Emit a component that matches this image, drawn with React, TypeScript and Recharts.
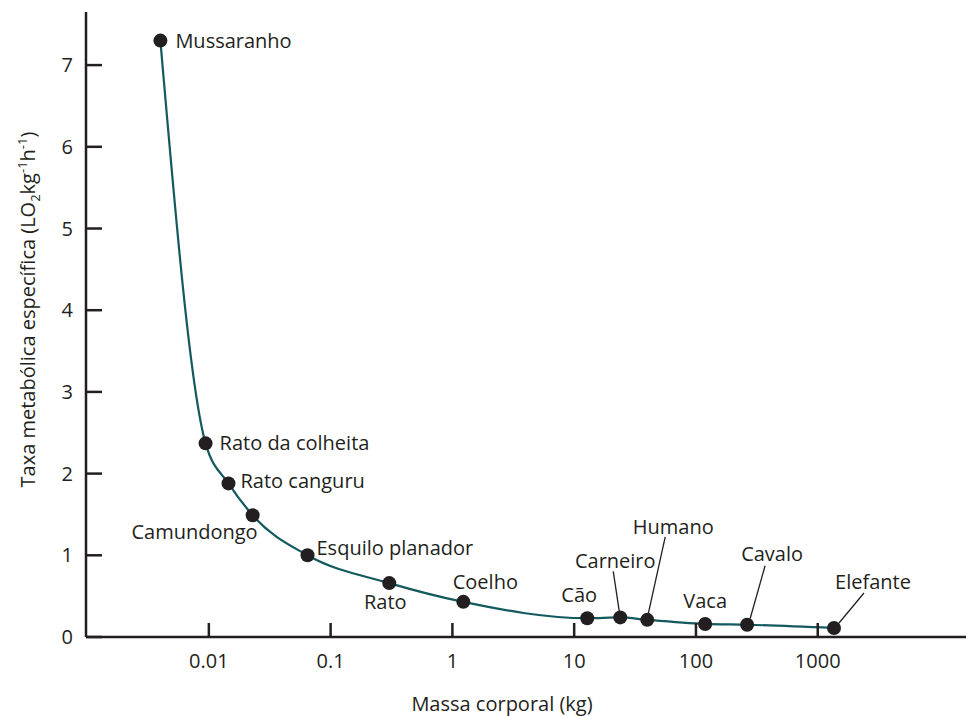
import React from 'react';
import { LineChart, Line, XAxis, YAxis, LabelList } from 'recharts';

const animals = [
  'Mussaranho', 'Rato da colheita', 'Rato canguru', 'Camundongo', 'Esquilo planador', 'Rato',
  'Coelho', 'Cão', 'Carneiro', 'Humano', 'Vaca', 'Cavalo', 'Elefante',
];
const bodyMass = [0.004, 0.0094, 0.0145, 0.0229, 0.0646, 0.303, 1.23, 12.8, 23.9, 39.8, 119, 263, 1360];
const metabolicRate = [7.3, 2.37, 1.88, 1.49, 1.0, 0.66, 0.43, 0.23, 0.24, 0.21, 0.16, 0.15, 0.11];
const xTicks = [0.01, 0.1, 1, 10, 100, 1000];
const yTicks = [0, 1, 2, 3, 4, 5, 6, 7];

// label placement relative to each dot (px), plus optional leader line
const labelPlacement: Array<{ dx: number; dy: number; anchor: string; leader?: number[] }> = [
  { dx: 15, dy: 0, anchor: 'start' },
  { dx: 14, dy: 0, anchor: 'start' },
  { dx: 12, dy: -2, anchor: 'start' },
  { dx: 5, dy: 17, anchor: 'end' },
  { dx: 9, dy: -7, anchor: 'start' },
  { dx: -4, dy: 19, anchor: 'middle' },
  { dx: 22, dy: -20, anchor: 'middle' },
  { dx: -8, dy: -23, anchor: 'middle' },
  { dx: -5, dy: -56, anchor: 'middle', leader: [-7, -46, -1, -6] },
  { dx: 26, dy: -93, anchor: 'middle', leader: [18, -83, 1, -6] },
  { dx: 0, dy: -23, anchor: 'middle' },
  { dx: 25, dy: -71, anchor: 'middle', leader: [18, -59, 3, -6] },
  { dx: 39, dy: -46, anchor: 'middle', leader: [30, -35, 5, -5] },
];

const data = animals.map((name, i) => ({ name, mass: bodyMass[i], rate: metabolicRate[i] }));

const INK = '#231f20';
const FONT = "'Open Sans', sans-serif";

const XTick = (props: any) => {
  const { x, y, payload } = props;
  return (
    <g>
      <line x1={x} x2={x} y1={y} y2={y - 14} stroke={INK} strokeWidth={2.5} />
      <text x={x} y={y + 31} textAnchor="middle" fill={INK} fontSize={20} fontFamily={FONT}>
        {String(payload.value)}
      </text>
    </g>
  );
};

const YTick = (props: any) => {
  const { x, y, payload } = props;
  return (
    <g>
      <line x1={x} x2={x + 16} y1={y} y2={y} stroke={INK} strokeWidth={2.5} />
      <text x={x - 13} y={y} dy={7} textAnchor="end" fill={INK} fontSize={20} fontFamily={FONT}>
        {payload.value}
      </text>
    </g>
  );
};

const YLabel = (props: any) => {
  const { viewBox } = props;
  const cy = viewBox.y + viewBox.height / 2 - 15;
  const cx = 35;
  return (
    <text
      x={cx}
      y={cy}
      transform={`rotate(-90, ${cx}, ${cy})`}
      textAnchor="middle"
      fill={INK}
      fontSize={20}
      fontFamily={FONT}
    >
      <tspan>Taxa metabólica específica (LO</tspan>
      <tspan fontSize={13} dy={5}>2</tspan>
      <tspan dy={-5}>kg</tspan>
      <tspan fontSize={13} dy={-8}>-1</tspan>
      <tspan dy={8}>h</tspan>
      <tspan fontSize={13} dy={-8}>-1</tspan>
      <tspan dy={8}>)</tspan>
    </text>
  );
};

const PointLabel = (props: any) => {
  const { x, y, index, value } = props;
  const p = labelPlacement[index];
  return (
    <g>
      {p.leader && (
        <line
          x1={x + p.leader[0]}
          y1={y + p.leader[1]}
          x2={x + p.leader[2]}
          y2={y + p.leader[3]}
          stroke={INK}
          strokeWidth={1.3}
        />
      )}
      <text
        x={x + p.dx}
        y={y + p.dy}
        dy={7}
        textAnchor={p.anchor}
        fill={INK}
        fontSize={20}
        fontFamily={FONT}
      >
        {value}
      </text>
    </g>
  );
};

export default function App() {
  return (
    <div style={{ position: 'absolute', left: 0, top: 0, width: 969, height: 716, background: '#fff' }}>
      <LineChart
        width={969}
        height={716}
        data={data}
        margin={{ top: 12, right: 3, bottom: 0, left: 0 }}
        style={{ fontFamily: FONT }}
      >
        <XAxis
          dataKey="mass"
          type="number"
          scale="log"
          domain={[0.00098, 16500]}
          allowDataOverflow
          ticks={xTicks}
          height={79}
          axisLine={{ stroke: INK, strokeWidth: 2.5 }}
          tickLine={false}
          tickSize={0}
          tickMargin={0}
          tick={<XTick />}
          interval={0}
          label={{
            value: 'Massa corporal (kg)',
            position: 'insideBottom',
            offset: 5,
            dx: -24,
            fill: INK,
            fontSize: 20,
            fontFamily: FONT,
          }}
        />
        <YAxis
          type="number"
          domain={[0, 7.65]}
          allowDataOverflow
          ticks={yTicks}
          width={86}
          axisLine={{ stroke: INK, strokeWidth: 2.5 }}
          tickLine={false}
          tickSize={0}
          tickMargin={0}
          tick={<YTick />}
          interval={0}
          label={{ content: <YLabel /> }}
        />
        <Line
          dataKey="rate"
          type="monotone"
          stroke="#14595e"
          strokeWidth={2.2}
          dot={{ r: 7, fill: INK, stroke: 'none' }}
          activeDot={false}
          isAnimationActive={false}
        >
          <LabelList dataKey="name" content={<PointLabel />} />
        </Line>
      </LineChart>
    </div>
  );
}
